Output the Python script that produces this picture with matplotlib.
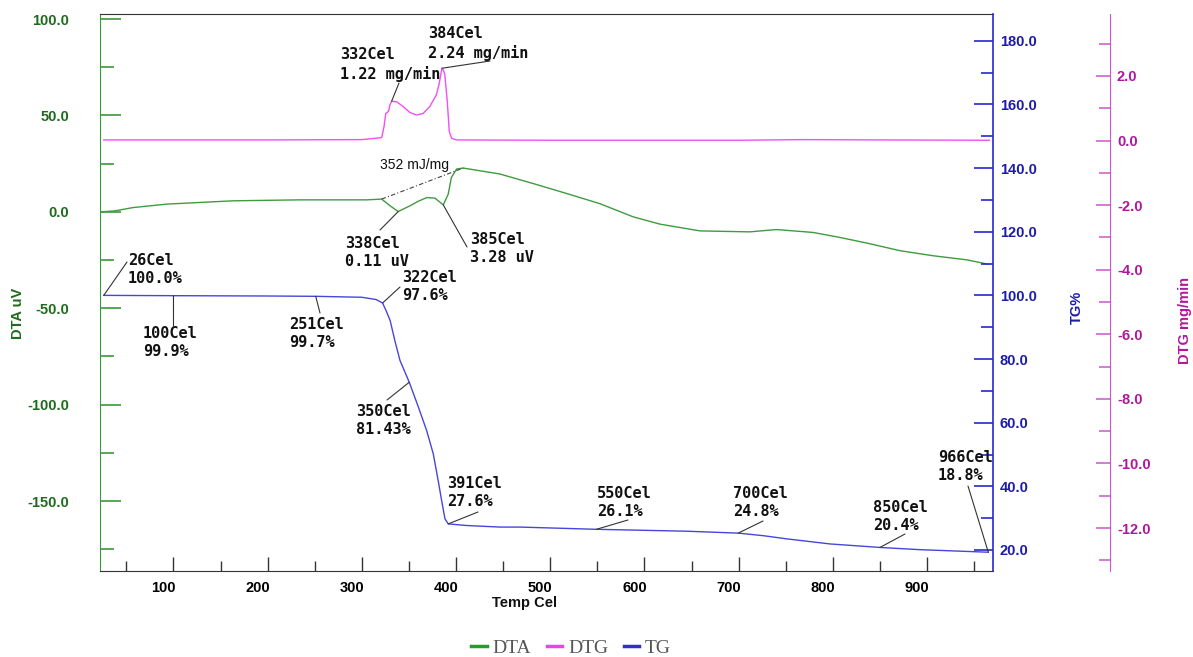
import numpy as np
import matplotlib
matplotlib.use("Agg")
import matplotlib.pyplot as plt
from matplotlib.lines import Line2D
from matplotlib.transforms import ScaledTranslation

# ---------------- data ----------------
T_dta = [24, 38, 57, 93, 163, 234, 305, 321, 330, 338.6, 351, 360, 369, 377.6, 386.4,
         391.7, 395, 400.6, 407.6, 446.6, 481.6, 517.4, 552.8, 588, 616.5, 659, 712,
         740, 779, 807.5, 836, 871.6, 906.6, 942, 965]
dta = [0, 0.5, 2.2, 4.0, 5.7, 6.2, 6.2, 6.6, 3.1, 0.15, 3.1, 5.5, 7.4, 7.1, 3.6,
       9.2, 17.8, 22.2, 22.7, 19.6, 14.7, 9.5, 4.2, -2.6, -6.4, -9.9, -10.4,
       -9.2, -10.7, -13.3, -16.2, -20.2, -22.8, -24.9, -27.2]

T_dtg = [26, 200, 300, 321, 323.5, 325.3, 327, 328.4, 329.8, 331.6, 337, 344, 351,
         358, 365, 372, 379, 382, 385, 386.6, 388, 390.7, 392.8, 395.3, 400.6, 500,
         700, 770, 850, 966]
dtg = [0.02, 0.02, 0.03, 0.09, 0.43, 0.84, 0.87, 0.92, 1.10, 1.22, 1.20, 1.05, 0.87,
       0.79, 0.84, 1.05, 1.41, 1.75, 2.24, 2.18, 2.05, 1.2, 0.28, 0.07, 0.02, 0.01,
       0.01, 0.03, 0.02, 0.01]

T_tg = [26, 100, 200, 251, 300, 315, 322, 326, 330, 335, 340.4, 350.3, 360, 368.8,
        375.8, 381, 384.7, 388.2, 391.7, 411, 446.6, 467.8, 549, 644.8, 699.6, 726,
        751, 797, 850, 892.5, 965]
tg = [100.0, 99.9, 99.8, 99.7, 99.4, 98.7, 97.6, 95.0, 92.1, 85.8, 79.6, 72.7, 64.9,
      57.5, 50.2, 41.8, 35.5, 29.8, 28.2, 27.7, 27.2, 27.2, 26.5, 25.9, 25.3, 24.5,
      23.5, 21.9, 20.8, 20.1, 19.3]

x_major = [100, 200, 300, 400, 500, 600, 700, 800, 900]
x_minor = [50, 150, 250, 350, 450, 550, 650, 750, 850, 950]
dta_major = [-150, -100, -50, 0, 50, 100]
dta_minor = [-175, -125, -75, -25, 25, 75]
tg_major = [20, 40, 60, 80, 100, 120, 140, 160, 180]
tg_minor = [30, 50, 70, 90, 110, 130, 150, 170]
dtg_major = [-12, -10, -8, -6, -4, -2, 0, 2]
dtg_minor = [-13, -11, -9, -7, -5, -3, -1, 1, 3]

# TG annotations: (label, T, text x px, text y px (block centre), leader end px)
tg_notes = [
    ("26Cel\n100.0%", 26, 128, 269.5, (127, 262)),
    ("100Cel\n99.9%", 100, 143, 342, (173.5, 326)),
    ("251Cel\n99.7%", 251, 289, 333.5, (320, 313)),
    ("322Cel\n97.6%", 322, 402, 287, (400, 287)),
    ("350Cel\n81.43%", 350.3, 356, 420.5, (387, 400)),
    ("391Cel\n27.6%", 391.7, 447, 493, (478, 512)),
    ("550Cel\n26.1%", 549, 597, 502, (628, 520)),
    ("700Cel\n24.8%", 699.6, 733, 502.5, (763, 521)),
    ("850Cel\n20.4%", 850, 873, 516, (905, 534)),
    ("966Cel\n18.8%", 965, 938, 467, (968, 486)),
]
dta_notes = [
    ("338Cel\n0.11 uV", 338.6, 345, 252, (380, 230)),
    ("385Cel\n3.28 uV", 386.4, 470, 249, (467, 247)),
]
dtg_notes = [
    ("332Cel\n1.22 mg/min", 331.6, 340, 64.5, (399, 83)),
    ("384Cel\n2.24 mg/min", 385, 428, 43.5, (490, 61)),
]
peak_T = [321, 407.6]
peak_label = "352 mJ/mg"

# ---------------- style ----------------
W, H = 1193, 657
c_dta, c_dta_t, c_dta_sp = "#3f9b3f", "#1e6b1e", "#3a9a3a"
c_tg, c_tg_t, c_tg_sp = "#4646dc", "#1c1ca8", "#2828d0"
c_dtg, c_dtg_t, c_dtg_sp = "#f050f0", "#b0189c", "#cc55cc"
c_lead = "#333333"
tickfont = dict(family="Liberation Sans", weight="bold", size=10.5)
notefont = dict(family="DejaVu Sans Mono", weight="bold", size=11)

fig = plt.figure(figsize=(W / 100, H / 100), dpi=100)
ax = fig.add_axes([100 / W, 1 - 571 / H, 893 / W, 557 / H])
ax2 = ax.twinx()
ax3 = ax.twinx()

ax.set_xlim(22, 970)
ax.set_ylim(-186.3, 102.6)
ax2.set_ylim(13.4, 188.4)
ax3.set_ylim(-13.33, 3.92)

ax.plot(T_dta, dta, color=c_dta, lw=1.0)
ax2.plot(T_tg, tg, color=c_tg, lw=1.0)
ax3.plot(T_dtg, dtg, color=c_dtg, lw=1.0)

# integration baseline
ax.plot(peak_T, np.interp(peak_T, T_dta, dta), color="#444444", lw=0.8,
        linestyle=(0, (4, 2, 1, 2)))
fig.text(380 / W, 1 - 165 / H, peak_label, family="Liberation Sans", size=10,
         ha="left", va="center", color="#111111")

# spines
ax.spines["right"].set_visible(False)
ax.spines["left"].set_color(c_dta_sp)
ax.spines["top"].set_color("#333333")
ax.spines["bottom"].set_color("#333333")
for s in ["left", "top", "bottom"]:
    ax2.spines[s].set_visible(False)
    ax3.spines[s].set_visible(False)
ax2.spines["right"].set_color(c_tg_sp)
ax2.spines["right"].set_linewidth(1.2)
ax3.spines["right"].set_position(("axes", (1110 - 100) / 893))
ax3.spines["right"].set_color(c_dtg_sp)

# ticks
ax.set_xticks(x_major)
ax.set_xticks(x_minor, minor=True)
ax.set_xticklabels([str(v) for v in x_major], fontdict=tickfont)
ax.tick_params(axis="x", which="major", direction="in", length=10, width=1.0,
               color="#333333", pad=7.5)
ax.tick_params(axis="x", which="minor", direction="in", length=7, width=1.0,
               color="#333333")
offs = ScaledTranslation(-10 / 100, 0, fig.dpi_scale_trans)
for lab in ax.get_xticklabels():
    lab.set_transform(lab.get_transform() + offs)

ax.set_yticks(dta_major)
ax.set_yticks(dta_minor, minor=True)
ax.set_yticklabels(["%.1f" % v for v in dta_major], fontdict=tickfont)
ax.tick_params(axis="y", which="major", direction="in", length=15, width=1.2,
               color=c_dta_sp, labelcolor=c_dta_t, pad=22)
ax.tick_params(axis="y", which="minor", direction="in", length=10, width=1.2,
               color=c_dta_sp)

ax2.set_yticks(tg_major)
ax2.set_yticks(tg_minor, minor=True)
ax2.set_yticklabels(["%.1f" % v for v in tg_major], fontdict=tickfont)
ax2.tick_params(axis="y", which="major", direction="in", length=14, width=1.2,
                color=c_tg_sp, labelcolor=c_tg_t, pad=5)
ax2.tick_params(axis="y", which="minor", direction="in", length=9, width=1.2,
                color=c_tg_sp)

ax3.set_yticks(dtg_major)
ax3.set_yticks(dtg_minor, minor=True)
ax3.set_yticklabels(["%.1f" % v for v in dtg_major], fontdict=tickfont)
ax3.tick_params(axis="y", which="major", direction="in", length=10, width=1.1,
                color=c_dtg_sp, labelcolor=c_dtg_t, pad=5)
ax3.tick_params(axis="y", which="minor", direction="in", length=8, width=1.1,
                color=c_dtg_sp)

# axis titles
fig.text(18.5 / W, 1 - 313 / H, "DTA uV", rotation=90, ha="center", va="center",
         color=c_dta_t, **tickfont)
fig.text(1077 / W, 1 - 307 / H, "TG%", rotation=90, ha="center", va="center",
         color=c_tg_t, **tickfont)
fig.text(1185 / W, 1 - 320 / H, "DTG mg/min", rotation=90, ha="center", va="center",
         color=c_dtg_t, **tickfont)
fig.text(525 / W, 1 - 603 / H, "Temp Cel", ha="center", va="center", color="#111111",
         **tickfont)


def note(axis, Tarr, Varr, items):
    for label, t, tx, ty, (lx, ly) in items:
        v = float(np.interp(t, Tarr, Varr))
        axis.annotate("", xy=(t, v), xycoords="data", xytext=(lx, H - ly),
                      textcoords="figure pixels",
                      arrowprops=dict(arrowstyle="-", color=c_lead, lw=0.8,
                                      shrinkA=0, shrinkB=0))
        fig.text(tx / W, 1 - ty / H, label, ha="left", va="center", color="#111111",
                 linespacing=1.25, **notefont)


note(ax2, T_tg, tg, tg_notes)
note(ax, T_dta, dta, dta_notes)
note(ax3, T_dtg, dtg, dtg_notes)

# legend
handles = [Line2D([], [], color=c, lw=2.5) for c in ("#2a9a2a", "#ee40ee", "#3030d0")]
leg = fig.legend(handles, ["DTA", "DTG", "TG"], loc="center",
                 bbox_to_anchor=(571 / W, 1 - 648 / H), ncol=3, frameon=False,
                 handlelength=0.8, handletextpad=0.3, columnspacing=0.8,
                 prop=dict(family="Liberation Serif", size=14))
for t in leg.get_texts():
    t.set_color("#555555")

fig.savefig("out.png", dpi=100)
